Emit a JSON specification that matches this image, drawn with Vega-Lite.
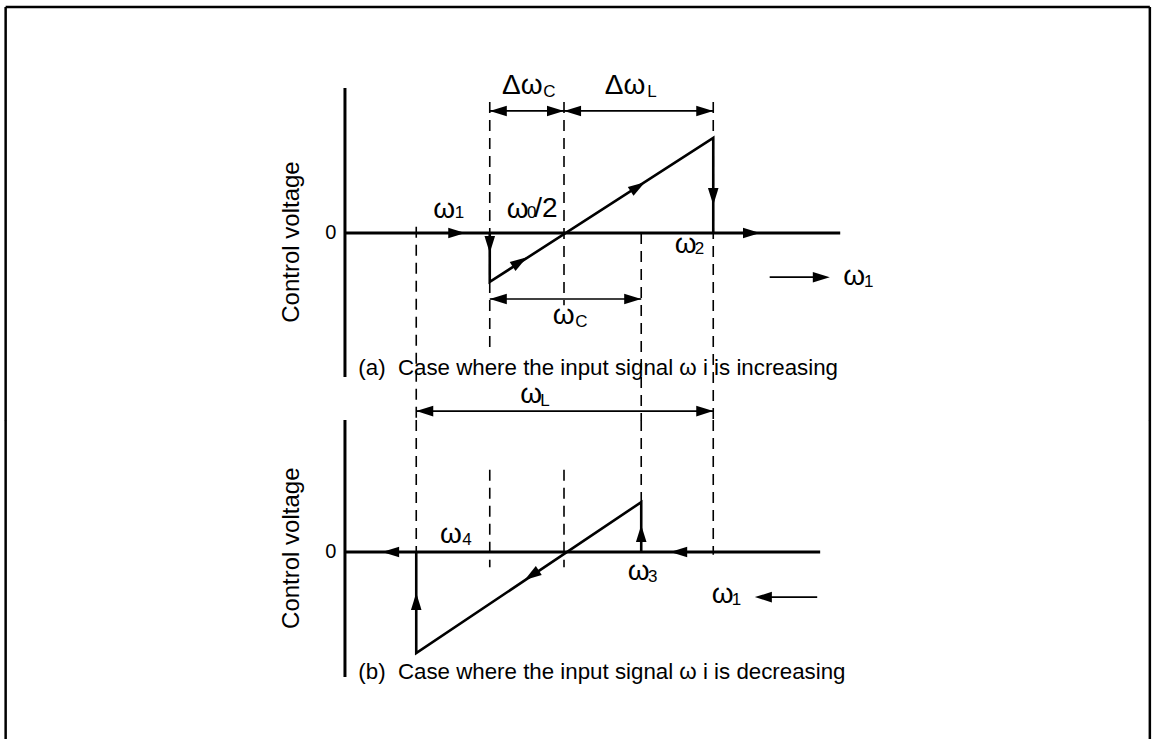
{
  "$schema": "https://vega.github.io/schema/vega-lite/v6.json",
  "background": "white",
  "padding": 0,
  "spacing": 0,
  "bounds": "flush",
  "config": {"view": {"stroke": null}, "font": "Liberation Sans", "concat": {"spacing": 0}},
  "datasets": {
    "segs": [
      {"panel": "a", "part": "axis", "u1": -2.95, "v1": -3.03, "u2": -2.95, "v2": 3.05},
      {"panel": "a", "part": "axis", "u1": -2.95, "v1": 0, "u2": 3.72, "v2": 0},
      {"panel": "a", "part": "dimension", "u1": -1, "v1": 2.57, "u2": 0, "v2": 2.57},
      {"panel": "a", "part": "dimension", "u1": 0, "v1": 2.57, "u2": 2.01, "v2": 2.57},
      {"panel": "a", "part": "dimension", "u1": -1, "v1": -1.39, "u2": 1.04, "v2": -1.39},
      {"panel": "a", "part": "dimension", "u1": -1.99, "v1": -3.75, "u2": 2.01, "v2": -3.75},
      {"panel": "a", "part": "dimension", "u1": 2.77, "v1": -0.93, "u2": 3.5, "v2": -0.93},
      {"panel": "a", "part": "guide", "u1": -1, "v1": 2.76, "u2": -1, "v2": -2.46},
      {"panel": "a", "part": "guide", "u1": 0, "v1": 2.76, "u2": 0, "v2": -1.52},
      {"panel": "a", "part": "guide", "u1": 2.01, "v1": 2.76, "u2": 2.01, "v2": -3.94},
      {"panel": "a", "part": "guide", "u1": -1.99, "v1": 0.13, "u2": -1.99, "v2": -3.94},
      {"panel": "a", "part": "guide", "u1": 1.04, "v1": 0, "u2": 1.04, "v2": -3.94},
      {"panel": "a", "part": "frame", "u1": -7.52, "v1": 4.76, "u2": 7.89, "v2": 4.76},
      {"panel": "a", "part": "frame", "u1": -7.52, "v1": 4.76, "u2": -7.52, "v2": -3.94},
      {"panel": "a", "part": "frame", "u1": 7.89, "v1": 4.76, "u2": 7.89, "v2": -3.94},
      {"panel": "b", "part": "axis", "u1": -2.95, "v1": 2.78, "u2": -2.95, "v2": -2.63},
      {"panel": "b", "part": "axis", "u1": -2.95, "v1": 0, "u2": 3.45, "v2": 0},
      {"panel": "b", "part": "dimension", "u1": 2.65, "v1": -0.95, "u2": 3.41, "v2": -0.95},
      {"panel": "b", "part": "guide", "u1": -1.99, "v1": 2.78, "u2": -1.99, "v2": 0},
      {"panel": "b", "part": "guide", "u1": -1, "v1": 1.73, "u2": -1, "v2": -0.32},
      {"panel": "b", "part": "guide", "u1": 0, "v1": 1.73, "u2": 0, "v2": -0.32},
      {"panel": "b", "part": "guide", "u1": 1.04, "v1": 2.78, "u2": 1.04, "v2": 1.05},
      {"panel": "b", "part": "guide", "u1": 2.01, "v1": 2.78, "u2": 2.01, "v2": -0.06},
      {"panel": "b", "part": "frame", "u1": -7.52, "v1": 2.78, "u2": -7.52, "v2": -3.94},
      {"panel": "b", "part": "frame", "u1": 7.89, "v1": 2.78, "u2": 7.89, "v2": -3.94}
    ],
    "curve": [
      {"panel": "a", "k": 1, "u": -1, "v": 0},
      {"panel": "a", "k": 2, "u": -1, "v": -1.03},
      {"panel": "a", "k": 3, "u": 2.01, "v": 2.0},
      {"panel": "a", "k": 4, "u": 2.01, "v": 0},
      {"panel": "b", "k": 1, "u": 1.04, "v": 0},
      {"panel": "b", "k": 2, "u": 1.04, "v": 1.05},
      {"panel": "b", "k": 3, "u": -1.99, "v": -2.13},
      {"panel": "b", "k": 4, "u": -1.99, "v": 0}
    ],
    "heads": [
      {"panel": "a", "u": -1.33, "v": 0, "dir": "right"},
      {"panel": "a", "u": 2.64, "v": 0, "dir": "right"},
      {"panel": "a", "u": 2.01, "v": 0.59, "dir": "down"},
      {"panel": "a", "u": -1, "v": -0.42, "dir": "down"},
      {"panel": "a", "u": 1.09, "v": 1.07, "dir": "upright"},
      {"panel": "a", "u": -0.5, "v": -0.51, "dir": "upright"},
      {"panel": "a", "u": -1, "v": 2.57, "dir": "left"},
      {"panel": "a", "u": 0, "v": 2.57, "dir": "right"},
      {"panel": "a", "u": 0, "v": 2.57, "dir": "left"},
      {"panel": "a", "u": 2.01, "v": 2.57, "dir": "right"},
      {"panel": "a", "u": -1, "v": -1.39, "dir": "left"},
      {"panel": "a", "u": 1.04, "v": -1.39, "dir": "right"},
      {"panel": "a", "u": -1.99, "v": -3.75, "dir": "left"},
      {"panel": "a", "u": 2.01, "v": -3.75, "dir": "right"},
      {"panel": "a", "u": 3.58, "v": -0.93, "dir": "right"},
      {"panel": "b", "u": -2.45, "v": 0, "dir": "left"},
      {"panel": "b", "u": 1.43, "v": 0, "dir": "left"},
      {"panel": "b", "u": 1.04, "v": 0.57, "dir": "up"},
      {"panel": "b", "u": -1.99, "v": -0.86, "dir": "up"},
      {"panel": "b", "u": -0.53, "v": -0.59, "dir": "downleft"},
      {"panel": "b", "u": 2.57, "v": -0.95, "dir": "left"}
    ],
    "labels": [
      {"panel": "a", "u": -0.835, "v": 3.09, "text": "Δω"},
      {"panel": "a", "u": 0.55, "v": 3.09, "text": "Δω"},
      {"panel": "a", "u": -1.76, "v": 0.48, "text": "ω"},
      {"panel": "a", "u": -0.77, "v": 0.48, "text": "ω"},
      {"panel": "a", "u": -0.4, "v": 0.5, "text": "/2"},
      {"panel": "a", "u": 1.49, "v": -0.25, "text": "ω"},
      {"panel": "a", "u": -0.15, "v": -1.75, "text": "ω"},
      {"panel": "a", "u": -0.59, "v": -3.41, "text": "ω"},
      {"panel": "a", "u": 3.76, "v": -0.93, "text": "ω"},
      {"panel": "b", "u": -1.67, "v": 0.36, "text": "ω"},
      {"panel": "b", "u": 0.86, "v": -0.42, "text": "ω"},
      {"panel": "b", "u": 1.99, "v": -0.91, "text": "ω"}
    ],
    "subs": [
      {"panel": "a", "u": -0.28, "v": 2.97, "text": "C"},
      {"panel": "a", "u": 1.12, "v": 2.97, "text": "L"},
      {"panel": "a", "u": -1.47, "v": 0.42, "text": "1"},
      {"panel": "a", "u": -0.5, "v": 0.42, "text": "0"},
      {"panel": "a", "u": 1.76, "v": -0.34, "text": "2"},
      {"panel": "a", "u": 0.15, "v": -1.87, "text": "C"},
      {"panel": "a", "u": -0.32, "v": -3.54, "text": "L"},
      {"panel": "a", "u": 4.04, "v": -1.03, "text": "1"},
      {"panel": "b", "u": -1.37, "v": 0.25, "text": "4"},
      {"panel": "b", "u": 1.13, "v": -0.53, "text": "3"},
      {"panel": "b", "u": 2.26, "v": -1.01, "text": "1"}
    ],
    "zeros": [
      {"panel": "a", "u": -3.14, "v": 0, "text": "0"},
      {"panel": "b", "u": -3.14, "v": 0, "text": "0"}
    ],
    "captions": [
      {"panel": "a", "u": -2.77, "v": -2.84, "text": "(a)\u00a0 Case where the input signal ω i is increasing"},
      {"panel": "b", "u": -2.77, "v": -2.53, "text": "(b)\u00a0 Case where the input signal ω i is decreasing"}
    ],
    "ylabels": [
      {"panel": "a", "u": -3.67, "v": -0.19, "text": "Control voltage"},
      {"panel": "b", "u": -3.67, "v": 0.08, "text": "Control voltage"}
    ]
  },
  "vconcat": [
    {
      "width": 1154,
      "height": 420,
      "layer": [
        {"data": {"name": "segs"}, "transform": [{"filter": "datum.panel == 'a' && datum.part == 'guide'"}],
         "mark": {"type": "rule", "color": "black", "strokeWidth": 1.6, "strokeDash": [11, 7]},
         "encoding": {"x": {"field": "u1", "type": "quantitative", "scale": {"domain": [-7.596, 7.946], "nice": false, "zero": false}, "axis": null}, "y": {"field": "v1", "type": "quantitative", "scale": {"domain": [-3.937, 4.905], "nice": false, "zero": false}, "axis": null}, "x2": {"field": "u2"}, "y2": {"field": "v2"}}},
        {"data": {"name": "segs"}, "transform": [{"filter": "datum.panel == 'a' && datum.part == 'dimension'"}],
         "mark": {"type": "rule", "color": "black", "strokeWidth": 1.6},
         "encoding": {"x": {"field": "u1", "type": "quantitative"}, "y": {"field": "v1", "type": "quantitative"}, "x2": {"field": "u2"}, "y2": {"field": "v2"}}},
        {"data": {"name": "segs"}, "transform": [{"filter": "datum.panel == 'a' && datum.part == 'axis'"}],
         "mark": {"type": "rule", "color": "black", "strokeWidth": 3},
         "encoding": {"x": {"field": "u1", "type": "quantitative"}, "y": {"field": "v1", "type": "quantitative"}, "x2": {"field": "u2"}, "y2": {"field": "v2"}}},
        {"data": {"name": "segs"}, "transform": [{"filter": "datum.panel == 'a' && datum.part == 'frame'"}],
         "mark": {"type": "rule", "color": "black", "strokeWidth": 2.5},
         "encoding": {"x": {"field": "u1", "type": "quantitative"}, "y": {"field": "v1", "type": "quantitative"}, "x2": {"field": "u2"}, "y2": {"field": "v2"}}},
        {"data": {"name": "curve"}, "transform": [{"filter": "datum.panel == 'a'"}],
         "mark": {"type": "line", "color": "black", "strokeWidth": 2.6, "strokeJoin": "miter"},
         "encoding": {"x": {"field": "u", "type": "quantitative"}, "y": {"field": "v", "type": "quantitative"}, "order": {"field": "k"}}},
        {"data": {"name": "heads"}, "transform": [{"filter": "datum.panel == 'a' && datum.dir == 'right'"}],
         "mark": {"type": "point", "shape": "M0,0L-2,-0.62L-2,0.62Z", "filled": true, "color": "black", "opacity": 1, "size": 290, "angle": 0},
         "encoding": {"x": {"field": "u", "type": "quantitative"}, "y": {"field": "v", "type": "quantitative"}}},
        {"data": {"name": "heads"}, "transform": [{"filter": "datum.panel == 'a' && datum.dir == 'left'"}],
         "mark": {"type": "point", "shape": "M0,0L-2,-0.62L-2,0.62Z", "filled": true, "color": "black", "opacity": 1, "size": 290, "angle": 180},
         "encoding": {"x": {"field": "u", "type": "quantitative"}, "y": {"field": "v", "type": "quantitative"}}},
        {"data": {"name": "heads"}, "transform": [{"filter": "datum.panel == 'a' && datum.dir == 'down'"}],
         "mark": {"type": "point", "shape": "M0,0L-2,-0.62L-2,0.62Z", "filled": true, "color": "black", "opacity": 1, "size": 290, "angle": 90},
         "encoding": {"x": {"field": "u", "type": "quantitative"}, "y": {"field": "v", "type": "quantitative"}}},
        {"data": {"name": "heads"}, "transform": [{"filter": "datum.panel == 'a' && datum.dir == 'upright'"}],
         "mark": {"type": "point", "shape": "M0,0L-2,-0.62L-2,0.62Z", "filled": true, "color": "black", "opacity": 1, "size": 290, "angle": 327},
         "encoding": {"x": {"field": "u", "type": "quantitative"}, "y": {"field": "v", "type": "quantitative"}}},
        {"data": {"name": "labels"}, "transform": [{"filter": "datum.panel == 'a'"}],
         "mark": {"type": "text", "fontSize": 28, "align": "left", "baseline": "middle", "color": "black"},
         "encoding": {"x": {"field": "u", "type": "quantitative"}, "y": {"field": "v", "type": "quantitative"}, "text": {"field": "text"}}},
        {"data": {"name": "subs"}, "transform": [{"filter": "datum.panel == 'a'"}],
         "mark": {"type": "text", "fontSize": 17, "align": "left", "baseline": "middle", "color": "black"},
         "encoding": {"x": {"field": "u", "type": "quantitative"}, "y": {"field": "v", "type": "quantitative"}, "text": {"field": "text"}}},
        {"data": {"name": "zeros"}, "transform": [{"filter": "datum.panel == 'a'"}],
         "mark": {"type": "text", "fontSize": 20, "align": "center", "baseline": "middle", "color": "black"},
         "encoding": {"x": {"field": "u", "type": "quantitative"}, "y": {"field": "v", "type": "quantitative"}, "text": {"field": "text"}}},
        {"data": {"name": "captions"}, "transform": [{"filter": "datum.panel == 'a'"}],
         "mark": {"type": "text", "fontSize": 22.3, "align": "left", "baseline": "middle", "color": "black"},
         "encoding": {"x": {"field": "u", "type": "quantitative"}, "y": {"field": "v", "type": "quantitative"}, "text": {"field": "text"}}},
        {"data": {"name": "ylabels"}, "transform": [{"filter": "datum.panel == 'a'"}],
         "mark": {"type": "text", "fontSize": 24, "align": "center", "baseline": "middle", "angle": 270, "color": "black"},
         "encoding": {"x": {"field": "u", "type": "quantitative"}, "y": {"field": "v", "type": "quantitative"}, "text": {"field": "text"}}}
      ]
    },
    {
      "width": 1154,
      "height": 319,
      "layer": [
        {"data": {"name": "segs"}, "transform": [{"filter": "datum.panel == 'b' && datum.part == 'guide'"}],
         "mark": {"type": "rule", "color": "black", "strokeWidth": 1.6, "strokeDash": [11, 7]},
         "encoding": {"x": {"field": "u1", "type": "quantitative", "scale": {"domain": [-7.596, 7.946], "nice": false, "zero": false}, "axis": null}, "y": {"field": "v1", "type": "quantitative", "scale": {"domain": [-3.937, 2.779], "nice": false, "zero": false}, "axis": null}, "x2": {"field": "u2"}, "y2": {"field": "v2"}}},
        {"data": {"name": "segs"}, "transform": [{"filter": "datum.panel == 'b' && datum.part == 'dimension'"}],
         "mark": {"type": "rule", "color": "black", "strokeWidth": 1.6},
         "encoding": {"x": {"field": "u1", "type": "quantitative"}, "y": {"field": "v1", "type": "quantitative"}, "x2": {"field": "u2"}, "y2": {"field": "v2"}}},
        {"data": {"name": "segs"}, "transform": [{"filter": "datum.panel == 'b' && datum.part == 'axis'"}],
         "mark": {"type": "rule", "color": "black", "strokeWidth": 3},
         "encoding": {"x": {"field": "u1", "type": "quantitative"}, "y": {"field": "v1", "type": "quantitative"}, "x2": {"field": "u2"}, "y2": {"field": "v2"}}},
        {"data": {"name": "segs"}, "transform": [{"filter": "datum.panel == 'b' && datum.part == 'frame'"}],
         "mark": {"type": "rule", "color": "black", "strokeWidth": 2.5},
         "encoding": {"x": {"field": "u1", "type": "quantitative"}, "y": {"field": "v1", "type": "quantitative"}, "x2": {"field": "u2"}, "y2": {"field": "v2"}}},
        {"data": {"name": "curve"}, "transform": [{"filter": "datum.panel == 'b'"}],
         "mark": {"type": "line", "color": "black", "strokeWidth": 2.6, "strokeJoin": "miter"},
         "encoding": {"x": {"field": "u", "type": "quantitative"}, "y": {"field": "v", "type": "quantitative"}, "order": {"field": "k"}}},
        {"data": {"name": "heads"}, "transform": [{"filter": "datum.panel == 'b' && datum.dir == 'left'"}],
         "mark": {"type": "point", "shape": "M0,0L-2,-0.62L-2,0.62Z", "filled": true, "color": "black", "opacity": 1, "size": 290, "angle": 180},
         "encoding": {"x": {"field": "u", "type": "quantitative"}, "y": {"field": "v", "type": "quantitative"}}},
        {"data": {"name": "heads"}, "transform": [{"filter": "datum.panel == 'b' && datum.dir == 'up'"}],
         "mark": {"type": "point", "shape": "M0,0L-2,-0.62L-2,0.62Z", "filled": true, "color": "black", "opacity": 1, "size": 290, "angle": 270},
         "encoding": {"x": {"field": "u", "type": "quantitative"}, "y": {"field": "v", "type": "quantitative"}}},
        {"data": {"name": "heads"}, "transform": [{"filter": "datum.panel == 'b' && datum.dir == 'downleft'"}],
         "mark": {"type": "point", "shape": "M0,0L-2,-0.62L-2,0.62Z", "filled": true, "color": "black", "opacity": 1, "size": 290, "angle": 146},
         "encoding": {"x": {"field": "u", "type": "quantitative"}, "y": {"field": "v", "type": "quantitative"}}},
        {"data": {"name": "labels"}, "transform": [{"filter": "datum.panel == 'b'"}],
         "mark": {"type": "text", "fontSize": 28, "align": "left", "baseline": "middle", "color": "black"},
         "encoding": {"x": {"field": "u", "type": "quantitative"}, "y": {"field": "v", "type": "quantitative"}, "text": {"field": "text"}}},
        {"data": {"name": "subs"}, "transform": [{"filter": "datum.panel == 'b'"}],
         "mark": {"type": "text", "fontSize": 17, "align": "left", "baseline": "middle", "color": "black"},
         "encoding": {"x": {"field": "u", "type": "quantitative"}, "y": {"field": "v", "type": "quantitative"}, "text": {"field": "text"}}},
        {"data": {"name": "zeros"}, "transform": [{"filter": "datum.panel == 'b'"}],
         "mark": {"type": "text", "fontSize": 20, "align": "center", "baseline": "middle", "color": "black"},
         "encoding": {"x": {"field": "u", "type": "quantitative"}, "y": {"field": "v", "type": "quantitative"}, "text": {"field": "text"}}},
        {"data": {"name": "captions"}, "transform": [{"filter": "datum.panel == 'b'"}],
         "mark": {"type": "text", "fontSize": 22.3, "align": "left", "baseline": "middle", "color": "black"},
         "encoding": {"x": {"field": "u", "type": "quantitative"}, "y": {"field": "v", "type": "quantitative"}, "text": {"field": "text"}}},
        {"data": {"name": "ylabels"}, "transform": [{"filter": "datum.panel == 'b'"}],
         "mark": {"type": "text", "fontSize": 24, "align": "center", "baseline": "middle", "angle": 270, "color": "black"},
         "encoding": {"x": {"field": "u", "type": "quantitative"}, "y": {"field": "v", "type": "quantitative"}, "text": {"field": "text"}}}
      ]
    }
  ]
}
